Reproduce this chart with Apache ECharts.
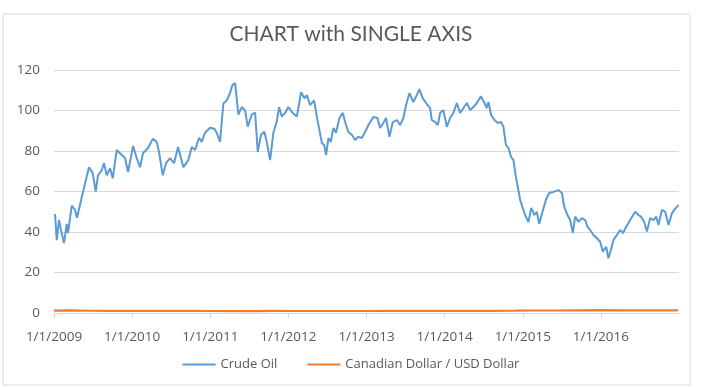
<!DOCTYPE html>
<html><head><meta charset="utf-8">
<script src="https://cdn.jsdelivr.net/npm/echarts@6/dist/echarts.min.js"></script>
<style>html,body{margin:0;padding:0;background:#fff}#c{width:702px;height:387px}</style>
</head><body><div id="c"></div>
<script>
// x positions as decimal years
const crudeYears = [2009.013,2009.035,2009.064,2009.090,2009.128,2009.163,2009.179,2009.227,2009.269,2009.294,2009.355,2009.397,2009.448,2009.496,2009.534,2009.563,2009.611,2009.640,2009.675,2009.717,2009.752,2009.803,2009.867,2009.909,2009.948,
2010.012,2010.059,2010.101,2010.140,2010.204,2010.264,2010.315,2010.344,2010.392,2010.434,2010.485,2010.536,2010.588,2010.656,2010.720,2010.763,2010.805,2010.857,2010.891,2010.933,2010.997,
2011.052,2011.083,2011.125,2011.168,2011.211,2011.253,2011.283,2011.318,2011.360,2011.403,2011.446,2011.480,2011.531,2011.574,2011.608,2011.650,2011.693,2011.723,2011.766,2011.808,2011.851,2011.881,2011.915,2011.958,
2012.000,2012.051,2012.108,2012.163,2012.205,2012.236,2012.278,2012.329,2012.364,2012.397,2012.428,2012.457,2012.483,2012.512,2012.543,2012.576,2012.611,2012.653,2012.697,2012.726,2012.768,2012.812,2012.854,2012.896,2012.940,2012.982,
2013.024,2013.088,2013.140,2013.174,2013.216,2013.251,2013.293,2013.337,2013.388,2013.430,2013.472,2013.507,2013.549,2013.600,2013.644,2013.677,2013.721,2013.763,2013.814,2013.836,2013.878,2013.913,2013.942,2013.985,
2014.028,2014.070,2014.113,2014.156,2014.198,2014.241,2014.284,2014.327,2014.369,2014.412,2014.464,2014.510,2014.540,2014.561,2014.595,2014.638,2014.681,2014.723,2014.753,2014.784,2014.817,2014.851,2014.881,2014.912,2014.937,2014.967,2014.996,
2015.031,2015.073,2015.108,2015.150,2015.180,2015.210,2015.252,2015.296,2015.338,2015.393,2015.457,2015.501,2015.530,2015.572,2015.607,2015.641,2015.671,2015.713,2015.757,2015.799,2015.828,2015.863,2015.905,2015.949,2015.991,
2016.025,2016.068,2016.097,2016.128,2016.161,2016.205,2016.247,2016.282,2016.324,2016.375,2016.439,2016.481,2016.512,2016.554,2016.589,2016.631,2016.673,2016.708,2016.737,2016.781,2016.823,2016.866,2016.909,2016.939,2016.994];
const crudeOil = [48.9,36,46,41,34.5,44,39.5,53,51,47,57,64,72,69,60,68,70.5,74,68,71.5,66.5,80.5,78,76.5,69.6,
82.5,76.5,72,79,81.5,86,84.5,79.5,68,74,76.5,74,82,72,75.5,82,80.5,86.5,84.5,89,91.5,
91,89,84.5,103.5,105,108.5,112.5,113.5,98,101.7,100,92,98,99,79.5,88,89.5,84.5,75.5,89,94.5,101.7,97,98.8,
101.7,99,97,109,106,107.6,102.7,105,97,90.4,84,83,78,86.4,84.5,91.4,89,96.3,98.8,94.3,89.4,88,85.4,87,86.4,89.4,
92.8,96.8,96.3,91.4,93.8,96.3,87,94.3,95.3,92.8,96.3,102.7,108.6,104.2,107.6,110.6,106,103.7,101.2,95.3,94.3,92.8,98.8,100.2,
91.9,96.3,98.8,103.7,98.8,101.2,103.7,100.2,101.7,103.7,107,103.7,101.2,104.2,97.8,95.3,93.8,94.3,91.9,83,81.5,77,75.5,67.2,62.2,55.8,52.3,
48.4,44.9,51.9,48.4,49.9,44,49.9,55.8,59.3,59.8,60.7,59.3,52.5,48.4,45.9,39.5,47.6,45.1,46.8,45.9,42.6,41,38.5,36.9,35.2,
30.3,32.7,27,31.1,36,38.5,41,39.4,42.6,45.9,50,48.4,47.6,45.1,40.2,46.8,45.9,47.6,43.5,50.9,50,43.5,49.2,50.9,53.3];
const cadYears = [2009.0,2009.2,2009.45,2009.7,2010.0,2010.3,2010.5,2010.8,2011.0,2011.3,2011.6,2011.8,2012.0,2012.4,2012.7,2013.0,2013.4,2013.7,2014.0,2014.3,2014.6,2014.9,2015.1,2015.4,2015.7,2016.0,2016.3,2016.6,2016.99];
const cadUsd = [1.22,1.26,1.12,1.08,1.05,1.02,1.05,1.01,1.0,0.97,0.97,1.03,1.0,1.0,0.98,0.99,1.02,1.04,1.06,1.10,1.08,1.14,1.24,1.23,1.32,1.40,1.30,1.31,1.34];
const yTicks = {min:0,max:120,interval:20};

const toPairs = (xs, ys) => xs.map((x,i)=>[x, ys[i]]);
const chart = echarts.init(document.getElementById('c'), null, {renderer:'canvas'});
const txt = '#595959';
const fontF = '"Open Sans", "Noto Sans", sans-serif';
chart.setOption({
  animation:false,
  backgroundColor:'#fff',
  graphic:[{type:'rect',shape:{x:3,y:14,width:687,height:371},style:{fill:'none',stroke:'#d9d9d9',lineWidth:1},z:-1}],
  title:{text:'CHART with SINGLE AXIS',left:'center',top:19,textStyle:{color:txt,fontSize:21,fontWeight:'normal',fontFamily:'Lato, "Open Sans", sans-serif'}},
  legend:{bottom:11,left:'center',icon:'rect',itemWidth:33,itemHeight:2,itemGap:30,
    textStyle:{color:txt,fontSize:13,fontFamily:fontF},
    data:['Crude Oil','Canadian Dollar / USD Dollar']},
  grid:{left:54,right:23,top:70,bottom:74,containLabel:false},
  xAxis:{type:'value',min:2009,max:2017,interval:1,
    axisLine:{show:true,lineStyle:{color:'#d9d9d9'}},
    axisTick:{show:true,length:5,lineStyle:{color:'#d9d9d9'}},
    splitLine:{show:false},
    axisLabel:{color:txt,fontSize:13.5,fontFamily:fontF,margin:17,showMaxLabel:false,
      formatter:v=> v>=2017 ? '' : '1/1/'+v}},
  yAxis:{type:'value',min:yTicks.min,max:yTicks.max,interval:yTicks.interval,
    axisLine:{show:false},axisTick:{show:false},
    splitLine:{lineStyle:{color:'#d9d9d9'}},
    axisLabel:{color:txt,fontSize:13.5,fontFamily:fontF,margin:14}},
  series:[
    {name:'Crude Oil',type:'line',data:toPairs(crudeYears,crudeOil),showSymbol:false,symbol:'none',
      lineStyle:{color:'#5B9BD5',width:2},itemStyle:{color:'#5B9BD5'}},
    {name:'Canadian Dollar / USD Dollar',type:'line',data:toPairs(cadYears,cadUsd),showSymbol:false,symbol:'none',
      lineStyle:{color:'#ED7D31',width:2.2},itemStyle:{color:'#ED7D31'}}
  ]
});
</script></body></html>
